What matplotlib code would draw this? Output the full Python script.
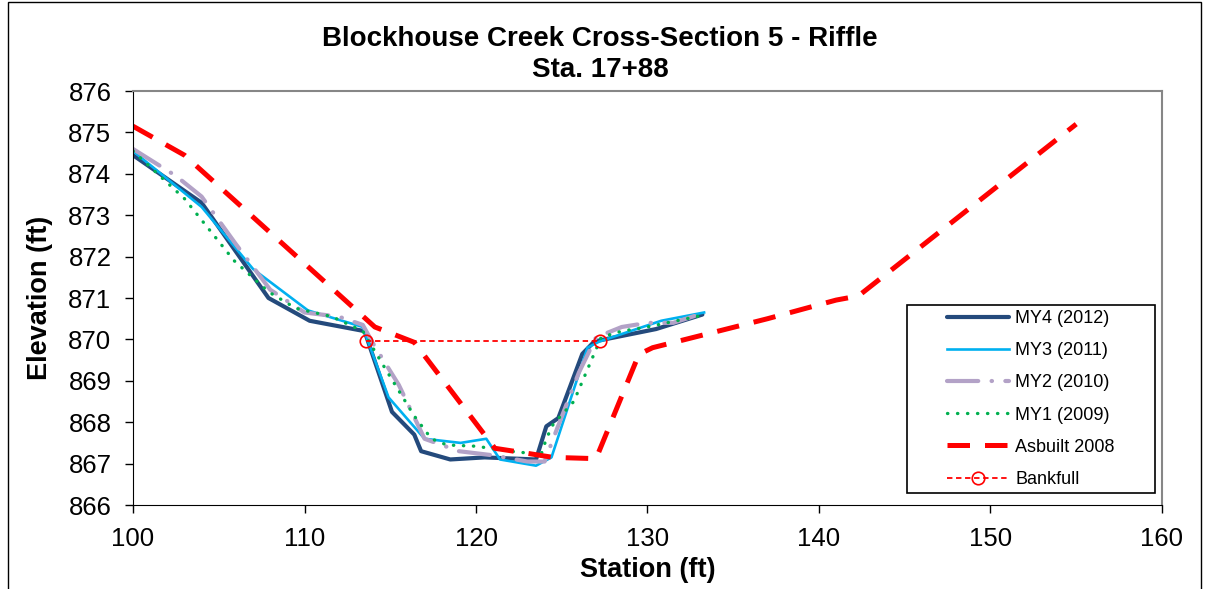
import matplotlib.pyplot as plt
from matplotlib.patches import Rectangle

plt.rcParams['font.family'] = ['Liberation Sans', 'DejaVu Sans']

# survey data (station ft, elevation ft)
my4_x = [100, 104, 107.9, 110.3, 113.5, 115.1, 116.4, 116.8, 118.5, 120.5, 123.5, 124.1, 124.8, 126.2, 126.9, 130.5, 133.2]
my4_y = [874.45, 873.3, 871.0, 870.45, 870.2, 868.25, 867.7, 867.3, 867.1, 867.15, 867.1, 867.9, 868.1, 869.65, 869.95, 870.25, 870.6]

my3_x = [100, 104, 107, 110.2, 113.4, 114.9, 117, 119.1, 120.6, 121.4, 123.5, 124.4, 126.5, 127.2, 130.8, 133.3]
my3_y = [874.55, 873.2, 871.7, 870.7, 870.3, 868.6, 867.6, 867.5, 867.6, 867.1, 866.95, 867.15, 869.8, 869.95, 870.45, 870.65]

my2_x = [100, 102.5, 104, 106, 108, 110, 112, 113.4, 114, 115.5, 117, 119, 121, 123, 124, 124.5, 126, 127, 128.5, 130, 131.5, 133]
my2_y = [874.6, 873.95, 873.45, 872.3, 871.2, 870.65, 870.55, 870.35, 869.9, 868.9, 867.6, 867.3, 867.2, 867.05, 867.05, 867.6, 869.2, 870.05, 870.3, 870.4, 870.4, 870.6]

my1_x = [100, 103, 105.9, 107.9, 109.5, 111.6, 113.4, 114.7, 116.4, 117.4, 118.3, 120, 122, 123.8, 124.1, 124.5, 125.7, 127.3, 128.5, 130, 133.4]
my1_y = [874.55, 873.4, 871.9, 871.15, 870.75, 870.55, 870.2, 869.3, 868.15, 867.6, 867.45, 867.42, 867.3, 867.22, 867.6, 867.95, 868.5, 870.05, 870.2, 870.3, 870.6]

asb_x = [100, 103, 114.1, 116.4, 121.1, 122.2, 124.5, 127.0, 129.5, 130.3, 137, 141, 142.3, 155]
asb_y = [875.15, 874.45, 870.3, 869.93, 867.37, 867.3, 867.15, 867.12, 869.64, 869.8, 870.5, 870.95, 871.05, 875.2]

bkf_x = [113.6, 127.25]
bkf_y = [869.95, 869.95]

fig = plt.figure(figsize=(12.07, 5.89), dpi=100)
ax = fig.add_axes([0.1102, 0.1426, 0.8525, 0.7029])

ax.plot(my4_x, my4_y, color='#244A7C', lw=3.0, solid_capstyle='round', solid_joinstyle='round', label='MY4 (2012)')
ax.plot(my3_x, my3_y, color='#00B0F0', lw=1.9, label='MY3 (2011)')
ax.plot(my2_x, my2_y, color='#B3A2C7', lw=3.0, dashes=(7.5, 3.2, 0.1, 3.2), dash_capstyle='round', label='MY2 (2010)')
ax.plot(my1_x, my1_y, color='#00B050', lw=2.4, dashes=(0.1, 2.9), dash_capstyle='round', label='MY1 (2009)')
ax.plot(asb_x, asb_y, color='#FF0000', lw=3.6, dashes=(4.5, 3), label='Asbuilt 2008')
ax.plot(bkf_x, bkf_y, color='#FF0000', lw=1.3, dashes=(3, 2), marker='o', ms=9, mfc='none', mec='#FF0000', mew=1.2, label='Bankfull')

ax.set_xlim(100, 160)
ax.set_ylim(866, 876)
ax.set_xticks(range(100, 161, 10))
ax.set_yticks(range(866, 877, 1))
ax.tick_params(labelsize=18.5, direction='out', length=5.5, width=1, pad=10)
ax.set_xlabel('Station (ft)', fontsize=19.5, fontweight='bold', labelpad=5)
ax.set_ylabel('Elevation (ft)', fontsize=19.5, fontweight='bold', labelpad=11)
for side in ['top', 'right']:
    ax.spines[side].set_color('#868686')
    ax.spines[side].set_linewidth(1.5)

fig.text(0.497, 0.908, 'Blockhouse Creek Cross-Section 5 - Riffle\nSta. 17+88', fontsize=20, fontweight='bold',
         ha='center', va='center', multialignment='center', linespacing=1.25)

# legend box drawn separately so the entries sit centred inside it
ax.add_patch(Rectangle((0.752, 0.029), 0.2412, 0.454, transform=ax.transAxes, facecolor='white',
                       edgecolor='black', lw=1.2, zorder=4, clip_on=False))
leg = ax.legend(loc='center', bbox_to_anchor=(0.8727, 0.256), fontsize=13, frameon=False,
                handlelength=3.43, labelspacing=0.84, borderpad=0, borderaxespad=0, handletextpad=0.33)
leg.set_zorder(5)

fig.patches.append(Rectangle((8 / 1207, -0.01), 1193 / 1207, 1.0066, transform=fig.transFigure,
                             fill=False, edgecolor='black', lw=1))

fig.savefig('out.png', dpi=100)
